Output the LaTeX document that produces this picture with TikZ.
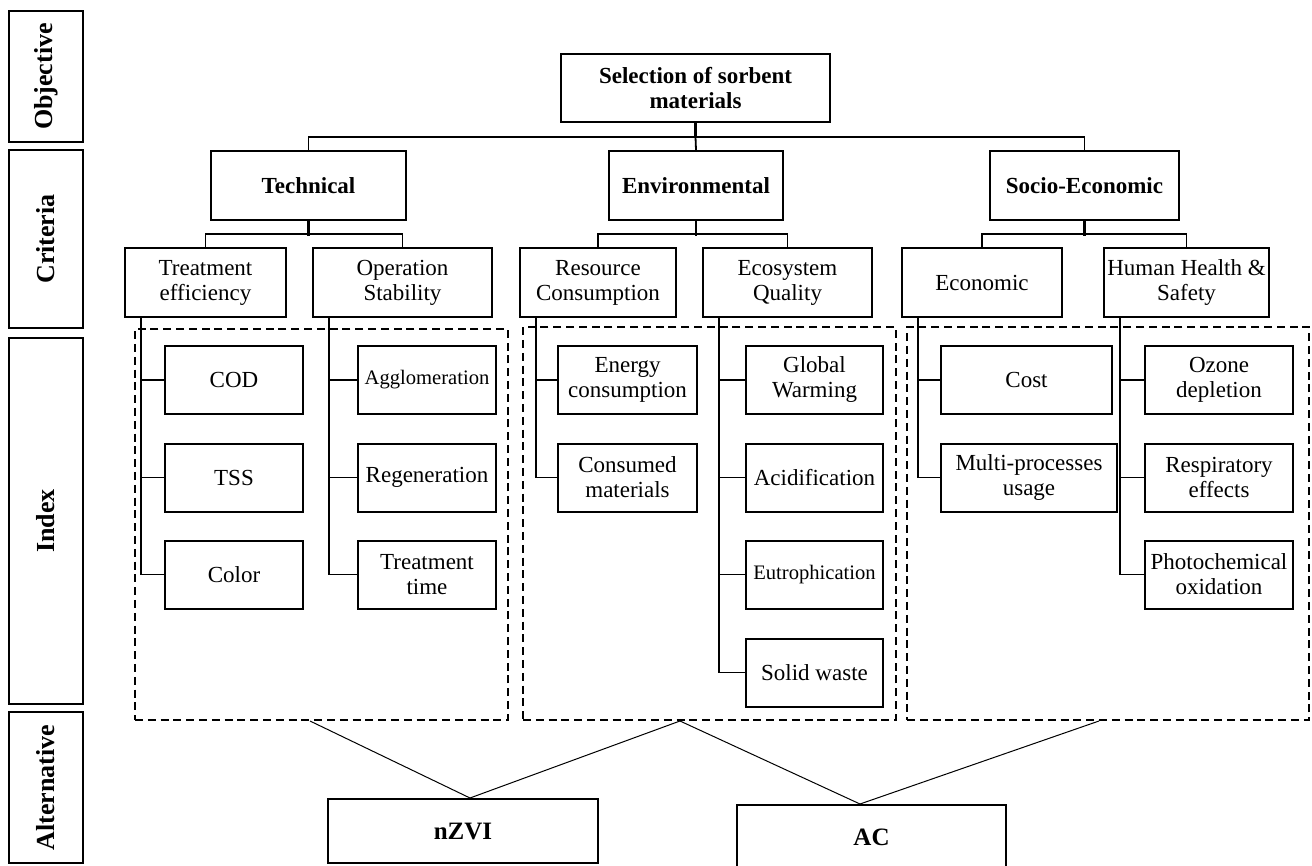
\documentclass[tikz,border=0pt]{standalone}
\usepackage{fontspec}
\setmainfont{Liberation Serif}

\tikzset{
  box/.style={draw, line width=1pt, inner sep=1pt, align=center, font=\fontsize{11.5}{12.5}\selectfont},
  head/.style={box, font=\fontsize{11.5}{12.5}\selectfont\bfseries},
  tier/.style={draw, line width=0.6pt, rotate=90, inner sep=0pt, minimum height=37pt, font=\fontsize{13}{15}\selectfont\bfseries},
  group/.style={draw, line width=1pt, dash pattern=on 4pt off 2.4pt, inner sep=0pt},
  link/.style={line width=0.9pt},
  stem/.style={line width=1.4pt},
  thin/.style={line width=0.5pt}
}

\begin{document}
\begin{tikzpicture}[x=0.5pt, y=-0.5pt]
  \useasboundingbox (0,0) rectangle (1312,866);

  % Hierarchy levels
  \foreach \pos/\name/\h/\txt in {{(46,76.5)/lvlobj/65.5pt/Objective}, {(46,239)/lvlcrit/89pt/Criteria},
                                  {(46,521)/lvlidx/183pt/Index}, {(46,787.5)/lvlalt/75.5pt/Alternative}} {
    \node[tier, minimum width=\h] (\name) at \pos {\txt};
  }

  % Objective
  \node[head, minimum width=134.5pt, minimum height=34pt] (goal) at (695.5,88) {Selection of sorbent\\materials};

  % Criteria
  \foreach \pos/\name/\w/\txt in {{(308.5,185.5)/tech/97.5pt/Technical}, {(696,185.5)/env/87pt/Environmental},
                                  {(1084.5,185.5)/soc/94.5pt/Socio-Economic}} {
    \node[head, minimum width=\w, minimum height=34.5pt] (\name) at \pos {\txt};
  }

  % Sub-criteria
  \foreach \pos/\name/\w/\txt in {{(205.5,282.5)/treat/80.5pt/Treatment\\efficiency}, {(402.5,282.5)/oper/89.5pt/Operation\\Stability},
                                  {(598,282.5)/res/78pt/Resource\\Consumption}, {(787.5,282.5)/eco/84.5pt/Ecosystem\\Quality},
                                  {(982,282.5)/econ/80pt/Economic}, {(1186.5,282.5)/hhs/82.5pt/Human Health \&\\Safety}} {
    \node[box, minimum width=\w, minimum height=34.5pt] (\name) at \pos {\txt};
  }

  % Index groups
  \node[group, minimum width=186.5pt, minimum height=195.5pt] (gtech) at (321.5,524.5) {};
  \node[group, minimum width=186.5pt, minimum height=196.5pt] (genv) at (709.5,523.5) {};
  \node[group, minimum width=201pt, minimum height=196.5pt] (gsoc) at (1108,523.5) {};

  % Indices
  \foreach \pos/\name/\w/\txt in {{(234,380)/cod/69pt/COD}, {(234,477.5)/tss/69pt/TSS}, {(234,574.5)/color/69pt/Color},
                                  {(427,380)/aggl/69pt/{\fontsize{10.3}{12}\selectfont Agglomeration}},
                                  {(427,477.5)/regen/69pt/Regeneration}, {(427,574.5)/ttime/69pt/Treatment\\time},
                                  {(627.5,380)/energy/69.5pt/Energy\\consumption}, {(627.5,477.5)/consumed/69.5pt/Consumed\\materials},
                                  {(814.5,380)/gw/68.5pt/Global\\Warming}, {(814.5,477.5)/acid/68.5pt/Acidification},
                                  {(814.5,574.5)/eutro/68.5pt/{\fontsize{10.3}{12}\selectfont Eutrophication}},
                                  {(814.5,672.5)/solid/68.5pt/Solid waste},
                                  {(1026.5,380)/cost/85.5pt/Cost}, {(1029,477.5)/multi/88pt/Multi-processes\\usage},
                                  {(1219,380)/ozone/74pt/Ozone\\depletion}, {(1219,477.5)/resp/74pt/Respiratory\\effects},
                                  {(1219,574.5)/photo/74pt/Photochemical\\oxidation}} {
    \node[box, minimum width=\w, minimum height=34pt] (\name) at \pos {\txt};
  }

  % Alternatives
  \node[head, font=\fontsize{12.5}{14}\selectfont\bfseries, minimum width=135pt, minimum height=32pt] (nzvi) at (463,831) {nZVI};
  \node[head, font=\fontsize{12.5}{14}\selectfont\bfseries, minimum width=134.5pt, minimum height=32pt] (ac) at (871.5,837) {AC};

  % Objective to criteria
  \coordinate (gbar) at (695.5,137);
  \draw[stem] (goal) -- (gbar);
  \draw[link] (tech.north) |- (gbar) -| (soc.north);
  \draw[link] (gbar) -- (env.north);

  % Criteria to sub-criteria
  \foreach \crit/\subl/\subr in {tech/treat/oper, env/res/eco, soc/econ/hhs} {
    \draw[stem] (\crit.south) -- ++(0,15);
    \draw[link] (\subl.north) -- ++(0,-13) -| (\subr.north);
  }

  % Sub-criteria to indices
  \foreach \crit/\kids in {treat/{cod,tss,color}, oper/{aggl,regen,ttime}, res/{energy,consumed},
                           eco/{gw,acid,eutro,solid}, econ/{cost,multi}, hhs/{ozone,resp,photo}} {
    \foreach \kid in \kids {
      \draw[link] ([xshift=8.5pt]\crit.south west) |- (\kid.west);
    }
  }

  % Groups to alternatives
  \draw[thin] ([xshift=-5.75pt]gtech.south) -- ([xshift=3.5pt]nzvi.north);
  \draw[thin] ([xshift=-14.75pt]genv.south) -- ([xshift=3.5pt]nzvi.north);
  \draw[thin] ([xshift=-14.75pt]genv.south) -- ([xshift=-5.75pt]ac.north);
  \draw[thin] ([xshift=-4.5pt]gsoc.south) -- ([xshift=-5.75pt]ac.north);
\end{tikzpicture}
\end{document}
